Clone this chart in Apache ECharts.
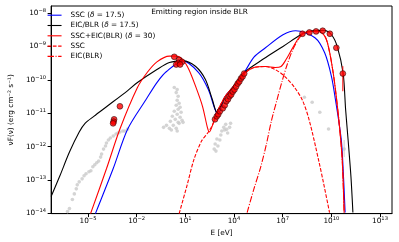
<!DOCTYPE html>
<html><head><meta charset="utf-8">
<script src="https://cdn.jsdelivr.net/npm/echarts@6/dist/echarts.min.js"></script>
<style>html,body{margin:0;padding:0;background:#fff}#c{width:399px;height:242px}</style>
</head><body><div id="c"></div>
<script>
// all values are log10(E/eV), log10(nuFnu)
const xTickExps = [-5, -2, 1, 4, 7, 10, 13];
const yTickExps = [-14, -13, -12, -11, -10, -9, -8];

const sscBlue = [[-4.54,-14.0],[-3.45,-12.66],[-2.55,-11.47],[-1.41,-10.58],[-0.75,-10.08],[-0.16,-9.75],[0.86,-9.43],[1.82,-9.78],[2.42,-10.29],[2.83,-10.88],[3.01,-11.03],[3.43,-10.52],[3.91,-10.23],[4.63,-9.78],[5.23,-9.32],[5.94,-9.04],[7.02,-8.65],[7.80,-8.53],[8.99,-8.74],[9.59,-9.19],[10.01,-9.90],[10.25,-10.58],[10.61,-11.77],[10.73,-12.69],[10.85,-13.97]];
const eicBlack = [[-7.27,-13.49],[-6.73,-12.87],[-6.14,-12.16],[-5.54,-11.56],[-5.18,-11.30],[-4.64,-11.09],[-3.74,-10.76],[-2.55,-10.32],[-1.95,-10.08],[-0.75,-9.69],[0.02,-9.48],[0.86,-9.43],[1.64,-9.60],[2.24,-9.99],[2.66,-10.58],[2.95,-10.97],[3.43,-10.52],[3.91,-10.23],[4.63,-9.78],[5.83,-9.37],[7.02,-9.00],[8.22,-8.62],[8.82,-8.53],[9.53,-8.52],[10.01,-8.65],[10.37,-9.01],[10.73,-9.81],[10.88,-10.88],[11.03,-11.77],[11.21,-12.90],[11.33,-13.97]];
const totalRed = [[-4.84,-14.0],[-3.86,-12.66],[-3.03,-11.47],[-1.95,-10.23],[-1.35,-9.78],[-0.75,-9.46],[0.02,-9.29],[0.44,-9.29],[0.86,-9.40],[1.22,-9.69],[1.64,-10.20],[2.06,-10.79],[2.36,-11.42],[2.48,-11.56],[2.72,-11.30],[2.95,-10.97],[3.43,-10.52],[3.91,-10.23],[4.63,-9.81],[5.23,-9.63],[5.94,-9.60],[6.54,-9.63],[6.90,-9.60],[7.20,-9.40],[7.62,-9.04],[8.04,-8.71],[8.34,-8.59],[8.82,-8.55],[9.29,-8.56],[9.65,-8.74],[9.89,-9.16],[10.13,-9.84],[10.31,-10.52],[10.49,-11.33],[10.67,-12.37],[10.79,-13.97]];
const sscRed = [[0.62,-14.0],[1.10,-13.17],[1.52,-12.40],[2.0,-11.83],[2.42,-11.56],[2.72,-11.30],[2.95,-10.97],[3.43,-10.52],[3.91,-10.23],[4.63,-9.81],[5.23,-9.63],[5.94,-9.60],[6.54,-9.69],[7.14,-9.90],[7.74,-10.23],[8.22,-10.61],[8.64,-11.21],[9.23,-12.43],[9.53,-13.11],[9.89,-13.97]];
const eicRed = [[4.81,-13.97],[5.23,-13.26],[5.65,-12.60],[6.0,-11.92],[6.30,-11.24],[6.66,-10.58],[6.96,-10.05],[7.26,-9.57],[7.62,-9.10],[8.04,-8.74],[8.40,-8.59],[8.82,-8.55],[9.29,-8.56],[9.65,-8.74],[9.89,-9.16],[10.13,-9.84],[10.31,-10.52],[10.49,-11.33],[10.67,-12.37],[10.79,-13.97]];

const obsRed = [[-3.03,-10.79],[-3.39,-11.18],[-3.42,-11.25],[-3.45,-11.30],
 [0.32,-9.31],[0.62,-9.40],[0.56,-9.49],[0.44,-9.54],[0.80,-9.46],[0.68,-9.54],
 [2.83,-11.18],[2.94,-11.09],[3.03,-11.03],[3.13,-10.94],[3.31,-10.85],[3.43,-10.76],[3.53,-10.64],[3.63,-10.58],[3.73,-10.49],[3.83,-10.44],[3.93,-10.35],[4.03,-10.29],[4.13,-10.20],[4.23,-10.11],[4.33,-10.05],[4.43,-9.96],[4.53,-9.90],[4.63,-9.81],
 [8.22,-8.62],[8.65,-8.58],[9.06,-8.55],[9.47,-8.53],[9.91,-8.62],[10.31,-9.04],[10.71,-9.81]];
const errRed = [[10.71,-9.59],[10.71,-10.34]];

const obsGray = [[-6.26,-13.94],[-6.14,-13.85],[-5.96,-13.58],[-5.84,-13.41],[-5.72,-13.26],[-5.66,-13.14],[-5.54,-13.05],[-5.36,-12.96],[-5.24,-12.87],[-5.12,-12.81],[-4.94,-12.75],[-4.82,-12.72],[-4.70,-12.60],[-4.58,-12.54],[-4.46,-12.48],[-4.34,-12.43],[-4.22,-12.31],[-4.16,-12.22],[-4.04,-12.07],[-3.92,-11.98],[-3.86,-11.89],[-3.74,-11.80],[-3.62,-11.74],[-3.44,-11.68],[-3.27,-11.62],[-3.15,-11.59],[-3.03,-11.56],[-2.85,-11.53],[-2.73,-11.53],[-2.55,-11.47],
 [0.32,-10.23],[0.50,-10.29],[0.44,-10.38],[0.56,-10.49],[0.50,-10.61],[0.62,-10.70],[0.44,-10.76],[0.68,-10.82],[0.56,-10.88],[0.32,-10.94],[0.74,-10.97],[0.50,-11.03],[0.20,-11.09],[0.68,-11.12],[0.38,-11.18],[0.80,-11.21],[0.08,-11.24],[0.56,-11.27],[0.86,-11.27],[-0.16,-11.36],[0.26,-11.36],[-0.34,-11.42],[0.02,-11.45],[0.44,-11.45],[0.62,-11.30],[0.14,-11.50],[0.50,-11.53],
 [2.78,-12.07],[2.84,-11.92],[2.89,-12.13],[2.95,-11.77],[3.01,-11.98],[3.13,-11.80],[3.19,-11.65],[3.25,-11.53],[3.37,-11.42],[3.43,-11.50],[3.49,-11.33],[3.55,-11.48],[3.61,-11.59],[3.73,-11.42],[3.79,-11.30],
 [8.34,-10.52],[8.82,-10.67],[9.29,-10.97],[9.83,-11.47],[10.79,-12.07]];
const errGray = [[10.79,-11.80],[10.79,-12.31]];

const FONT = 'DejaVu Sans';
const sup = v => '{b|10}{s|' + (v < 0 ? '\u2212' + Math.abs(Math.round(v)) : Math.round(v)) + '}';
const richLbl = {
  b: {fontSize: 7.3, fontFamily: FONT, color: '#000'},
  s: {fontSize: 5.2, fontFamily: FONT, color: '#000', padding: [0, 0, 5, 0]}
};
const legendNames = {
  'SSC (δ = 17.5)': '{n|SSC (}{i|δ}{n| = 17.5)}',
  'EIC/BLR (δ = 17.5)': '{n|EIC/BLR (}{i|δ}{n| = 17.5)}',
  'SSC+EIC(BLR) (δ = 30)': '{n|SSC+EIC(BLR) (}{i|δ}{n| = 30)}',
  'SSC': '{n|SSC}',
  'EIC(BLR)': '{n|EIC(BLR)}'
};
const dashed = [3.7, 1.6];
const dashdot = [6.4, 1.6, 1, 1.6];

const chart = echarts.init(document.getElementById('c'), null, {renderer: 'canvas'});
chart.setOption({
  animation: false,
  grid: {left: 41, right: 7, top: 6, bottom: 27, show: true, borderColor: '#000', borderWidth: 1, backgroundColor: 'transparent'},
  xAxis: {
    type: 'value', min: -7.27, max: 13.74,
    axisLine: {show: true, onZero: false, lineStyle: {color: '#000', width: 1}},
    axisTick: {show: true, length: 3.5, lineStyle: {color: '#000'}, customValues: xTickExps},
    axisLabel: {margin: 3, customValues: xTickExps, formatter: v => sup(v), rich: richLbl},
    splitLine: {show: false},
    name: 'E [eV]', nameLocation: 'middle', nameGap: 14,
    nameTextStyle: {fontSize: 7.3, fontFamily: FONT, color: '#000'}
  },
  yAxis: {
    type: 'value', min: -14, max: -7.79, interval: 1,
    axisLine: {show: true, onZero: false, lineStyle: {color: '#000', width: 1}},
    axisTick: {show: true, length: 3.5, lineStyle: {color: '#000'}},
    axisLabel: {margin: 5, formatter: v => sup(v), rich: richLbl, showMaxLabel: false},
    splitLine: {show: false},
    name: 'νF(ν) (erg cm⁻² s⁻¹)', nameLocation: 'middle', nameGap: 28, nameRotate: 90,
    nameTextStyle: {fontSize: 7.3, fontFamily: FONT, color: '#000'}
  },
  legend: {
    orient: 'vertical', left: 47, top: 11.7, padding: 0,
    itemWidth: 14, itemHeight: 8, itemGap: 3.3,
    itemStyle: {opacity: 0},
    lineStyle: {width: 1.1},
    data: ['SSC (δ = 17.5)', 'EIC/BLR (δ = 17.5)', 'SSC+EIC(BLR) (δ = 30)', 'SSC', 'EIC(BLR)'],
    formatter: n => legendNames[n],
    textStyle: {fontSize: 7.3, fontFamily: FONT, color: '#000', padding: [0, 0, 0, 4],
      rich: {n: {fontSize: 7.3, fontFamily: FONT, color: '#000'}, i: {fontSize: 7.3, fontFamily: FONT, fontStyle: 'italic', color: '#000'}}}
  },
  graphic: [{
    type: 'text', left: 'center', top: 9,
    style: {text: 'Emitting region inside BLR', fontSize: 7.3, fontFamily: FONT, fill: '#000'}
  }],
  series: [
    {type: 'scatter', name: 'gray', data: obsGray, symbolSize: 3.6, itemStyle: {color: '#c9c9c9'}, z: 1, silent: true},
    {type: 'line', name: 'grayErr', data: errGray, symbol: 'none', lineStyle: {color: '#c9c9c9', width: 1}, z: 1},
    {type: 'line', name: 'SSC (δ = 17.5)', data: sscBlue, symbol: 'none', smooth: 0.3, lineStyle: {color: '#0000ff', width: 1.1}, itemStyle: {color: '#0000ff'}, z: 3},
    {type: 'line', name: 'EIC/BLR (δ = 17.5)', data: eicBlack, symbol: 'none', smooth: 0.3, lineStyle: {color: '#000', width: 1.1}, itemStyle: {color: '#000'}, z: 3},
    {type: 'line', name: 'SSC+EIC(BLR) (δ = 30)', data: totalRed, symbol: 'none', smooth: 0.3, lineStyle: {color: '#ff0000', width: 1.1}, itemStyle: {color: '#ff0000'}, z: 3},
    {type: 'line', name: 'SSC', data: sscRed, symbol: 'none', smooth: 0.3, lineStyle: {color: '#ff0000', width: 1.1, type: dashed}, itemStyle: {color: '#ff0000'}, z: 3},
    {type: 'line', name: 'EIC(BLR)', data: eicRed, symbol: 'none', smooth: 0.3, lineStyle: {color: '#ff0000', width: 1.1, type: dashdot}, itemStyle: {color: '#ff0000'}, z: 3},
    {type: 'line', name: 'redErr', data: errRed, symbol: 'none', lineStyle: {color: '#ff0000', width: 1}, z: 4},
    {type: 'scatter', name: 'obs', data: obsRed, symbolSize: 5.8, itemStyle: {color: '#ff0000', borderColor: '#200000', borderWidth: 0.7}, z: 5}
  ]
});
</script>
</body></html>
